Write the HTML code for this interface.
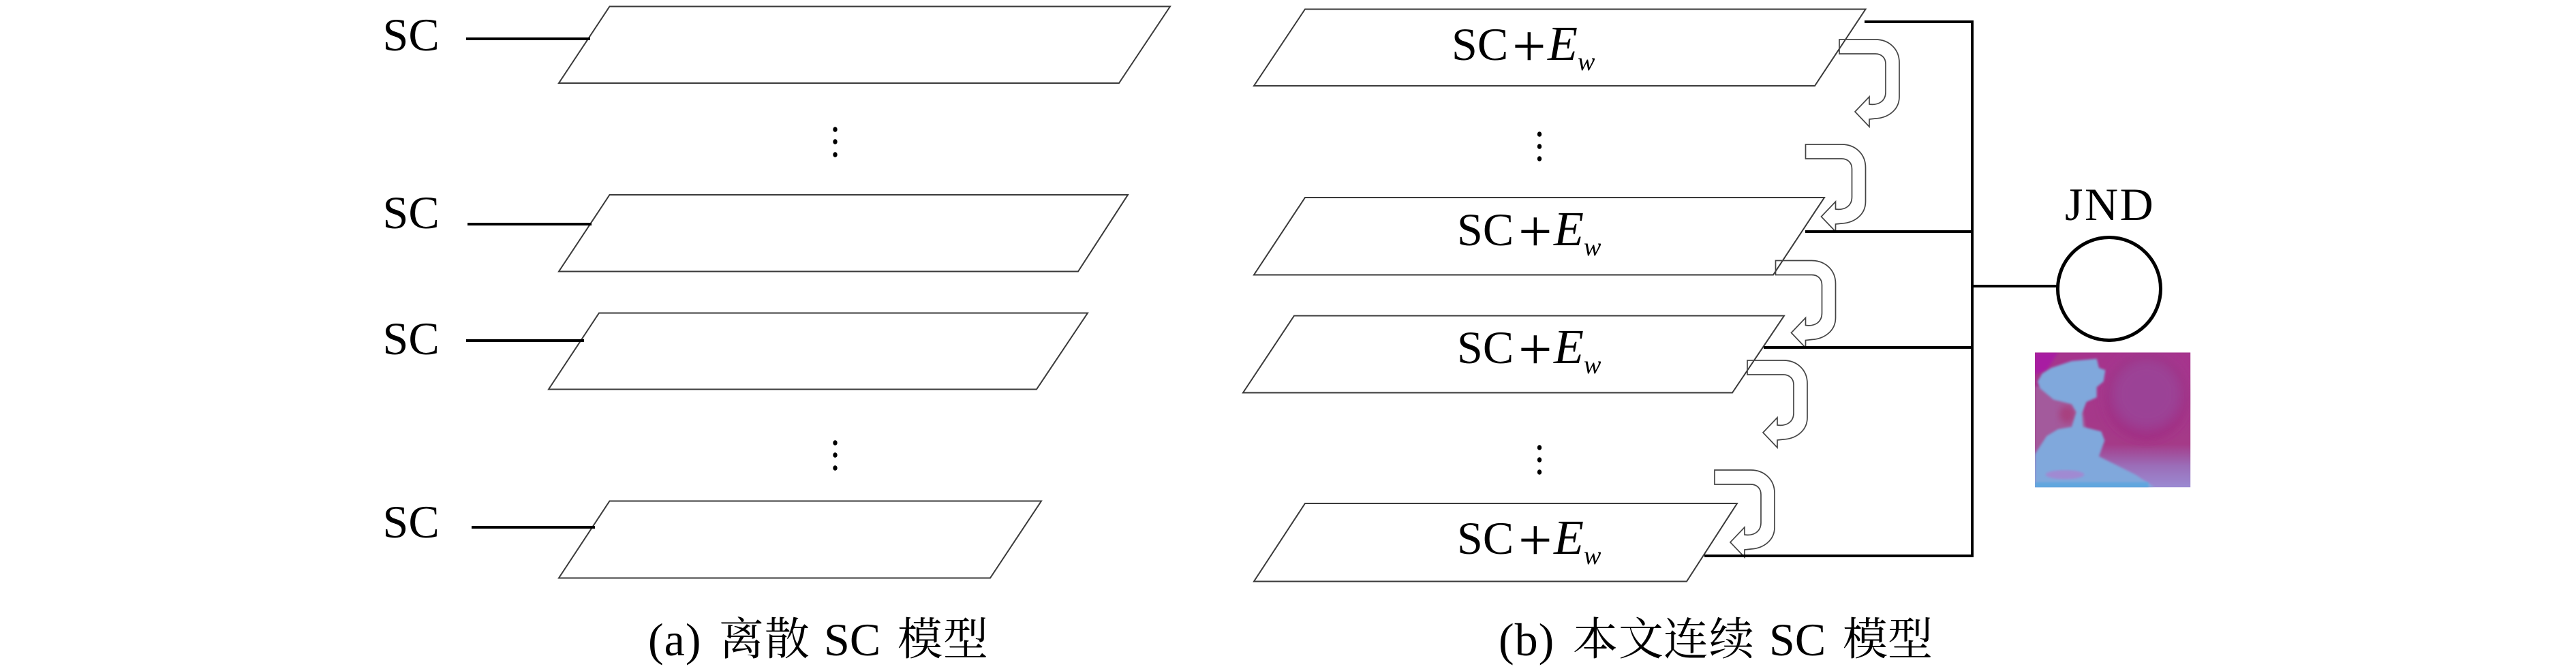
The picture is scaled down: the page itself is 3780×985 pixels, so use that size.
<!DOCTYPE html>
<html>
<head>
<meta charset="utf-8">
<style>
html,body{margin:0;padding:0;background:#fff;width:3780px;height:985px;overflow:hidden}
svg{display:block}
text{font-family:"Liberation Serif","Noto Serif CJK SC",serif;fill:#000}
.t{font-size:68px}
.p{font-size:88px}
.e{font-size:72px;font-style:italic}
.w{font-size:38px;font-style:italic}
.c{font-size:66px;font-family:"Liberation Serif","Noto Serif CJK SC",serif}
.para{fill:#fff;stroke:#3a3a3a;stroke-width:2}
.arr{fill:none;stroke:#444;stroke-width:1.7;stroke-linejoin:miter}
.th{stroke:#000;stroke-width:4;fill:none}
</style>
</head>
<body>
<svg width="3780" height="985" viewBox="0 0 3780 985" xmlns="http://www.w3.org/2000/svg">
<defs>
<path id="ca" d="M0,0 H53 C73,0 88,14 88,34 V84 C88,103 72,115 53,116 L44,117 V128 L23,106 L44,84 V95 C58,97 68,90 68,77 V36 C68,27 62,21 53,21 H0 Z"/>
<filter id="bl" x="-10%" y="-10%" width="120%" height="120%"><feGaussianBlur stdDeviation="5"/></filter>
<filter id="bl3" x="-30%" y="-30%" width="160%" height="160%"><feGaussianBlur stdDeviation="14"/></filter>
<filter id="bl2" x="-40%" y="-40%" width="180%" height="180%"><feGaussianBlur stdDeviation="32"/></filter>
<linearGradient id="bg" x1="0" y1="0" x2="0" y2="1">
<stop offset="0" stop-color="#a6348d"/><stop offset="0.68" stop-color="#a53a88"/><stop offset="0.84" stop-color="#9b6db8"/><stop offset="1" stop-color="#9b8ad2"/>
</linearGradient>
<clipPath id="ic"><rect x="558" y="802" width="685" height="594"/></clipPath>
</defs>
<rect width="3780" height="985" fill="#fff"/>

<!-- Left panel parallelograms -->
<polygon class="para" points="894.5,9.5 1717,9.5 1642,122 820,122"/>
<polygon class="para" points="894.5,286 1655,286 1582,398.5 820,398.5"/>
<polygon class="para" points="879,459.5 1596,459.5 1521,571.5 805,571.5"/>
<polygon class="para" points="894.5,735.5 1528,735.5 1453,848.5 820,848.5"/>

<!-- Left panel connectors -->
<line class="th" x1="684" y1="57" x2="866" y2="57"/>
<line class="th" x1="686" y1="329" x2="868" y2="329"/>
<line class="th" x1="684" y1="500" x2="857" y2="500"/>
<line class="th" x1="692" y1="774" x2="873" y2="774"/>

<text class="t" x="561.5" y="74">SC</text>
<text class="t" x="561.5" y="335">SC</text>
<text class="t" x="561.5" y="520">SC</text>
<text class="t" x="561.5" y="789">SC</text>

<!-- Dots -->
<g fill="#000">
<ellipse cx="1225.5" cy="190" rx="3.2" ry="3.8"/><ellipse cx="1225.5" cy="208" rx="3.2" ry="3.8"/><ellipse cx="1225.5" cy="227" rx="3.2" ry="3.8"/>
<ellipse cx="1225.5" cy="650" rx="3.2" ry="3.8"/><ellipse cx="1225.5" cy="668" rx="3.2" ry="3.8"/><ellipse cx="1225.5" cy="687" rx="3.2" ry="3.8"/>
<ellipse cx="2259" cy="197" rx="3.2" ry="3.8"/><ellipse cx="2259" cy="215" rx="3.2" ry="3.8"/><ellipse cx="2259" cy="233" rx="3.2" ry="3.8"/>
<ellipse cx="2259" cy="657" rx="3.2" ry="3.8"/><ellipse cx="2259" cy="675" rx="3.2" ry="3.8"/><ellipse cx="2259" cy="693" rx="3.2" ry="3.8"/>
</g>

<!-- Right panel parallelograms -->
<polygon class="para" points="1915,13.5 2737.5,13.5 2663,126 1840,126"/>
<polygon class="para" points="1915,290 2677,290 2602,403.5 1840,403.5"/>
<polygon class="para" points="1899,463.5 2618,463.5 2542,576.5 1824,576.5"/>
<polygon class="para" points="1915,739 2549,739 2475,853.5 1840,853.5"/>

<!-- SC+Ew labels -->
<g>
<text class="t" x="2130" y="88">SC</text><text class="p" x="2219" y="97">+</text><text class="e" x="2271" y="88">E</text><text class="w" x="2315" y="103">w</text>
<text class="t" x="2138" y="360">SC</text><text class="p" x="2228" y="369">+</text><text class="e" x="2280" y="360">E</text><text class="w" x="2324" y="375">w</text>
<text class="t" x="2138" y="533">SC</text><text class="p" x="2228" y="542">+</text><text class="e" x="2280" y="533">E</text><text class="w" x="2324" y="548">w</text>
<text class="t" x="2138" y="813">SC</text><text class="p" x="2228" y="822">+</text><text class="e" x="2280" y="813">E</text><text class="w" x="2324" y="828">w</text>
</g>

<!-- Curved arrows -->
<use href="#ca" class="arr" x="2699" y="58"/>
<use href="#ca" class="arr" x="2649.5" y="212"/>
<use href="#ca" class="arr" x="2605.5" y="382.5"/>
<use href="#ca" class="arr" x="2564" y="529"/>
<use href="#ca" class="arr" x="2516" y="690"/>

<!-- Right bus -->
<path class="th" d="M2736,32 H2894 M2649,340 H2894 M2588,510 H2894 M2501,816 H2894 M2894,30 V818 M2894,420 H3020"/>
<circle cx="3095" cy="424" r="75.5" fill="#fff" stroke="#000" stroke-width="5"/>
<text class="t" x="3030" y="323" style="letter-spacing:2.5px">JND</text>

<!-- JND image approximation -->
<g transform="translate(2800,250) scale(0.33333)" clip-path="url(#ic)">
<rect x="558" y="802" width="685" height="594" fill="url(#bg)"/>
<g clip-path="url(#ic)">
<polygon points="558,802 660,802 610,880 558,900" fill="#a81ea2" filter="url(#bl)"/>
<polygon points="558,950 760,1000 790,1180 610,1200 558,1260" fill="#a35a9c" filter="url(#bl)"/>
<ellipse cx="700" cy="1075" rx="35" ry="40" fill="#a8407f" filter="url(#bl3)"/>
<ellipse cx="1050" cy="1000" rx="185" ry="190" fill="#a32b80" filter="url(#bl3)"/>
<ellipse cx="1050" cy="985" rx="165" ry="165" fill="#9b4296" filter="url(#bl2)"/>
<path d="M570,930 L590,895 L630,870 L720,840 L830,830 L840,870 L868,880 L860,930 L830,955 L830,1000 L785,1020 L765,1070 L770,1130 L850,1150 L865,1190 L840,1260 L1000,1340 L1085,1396 L558,1396 L558,1250 L610,1170 L660,1140 L720,1130 L740,1065 L720,1030 L640,1010 L580,960 Z" fill="#80a8dc" filter="url(#bl)"/>
<rect x="558" y="1374" width="500" height="40" fill="#60a6de" filter="url(#bl)"/>
<ellipse cx="690" cy="1340" rx="85" ry="20" fill="#a08ad2" filter="url(#bl)"/>
</g>
</g>

<!-- Captions -->
<text class="t" x="951" y="962" style="letter-spacing:1px">(a)</text>
<text class="c" x="1055" y="961">离</text><text class="c" x="1122" y="961">散</text>
<text class="t" x="1209" y="962">SC</text>
<text class="c" x="1317" y="961">模</text><text class="c" x="1384" y="961">型</text>

<text class="t" x="2199" y="962" style="letter-spacing:1px">(b)</text>
<text class="c" x="2308" y="961">本</text><text class="c" x="2375" y="961">文</text><text class="c" x="2441" y="961">连</text><text class="c" x="2508" y="961">续</text>
<text class="t" x="2596" y="962">SC</text>
<text class="c" x="2704" y="961">模</text><text class="c" x="2770" y="961">型</text>
</svg>
</body>
</html>
